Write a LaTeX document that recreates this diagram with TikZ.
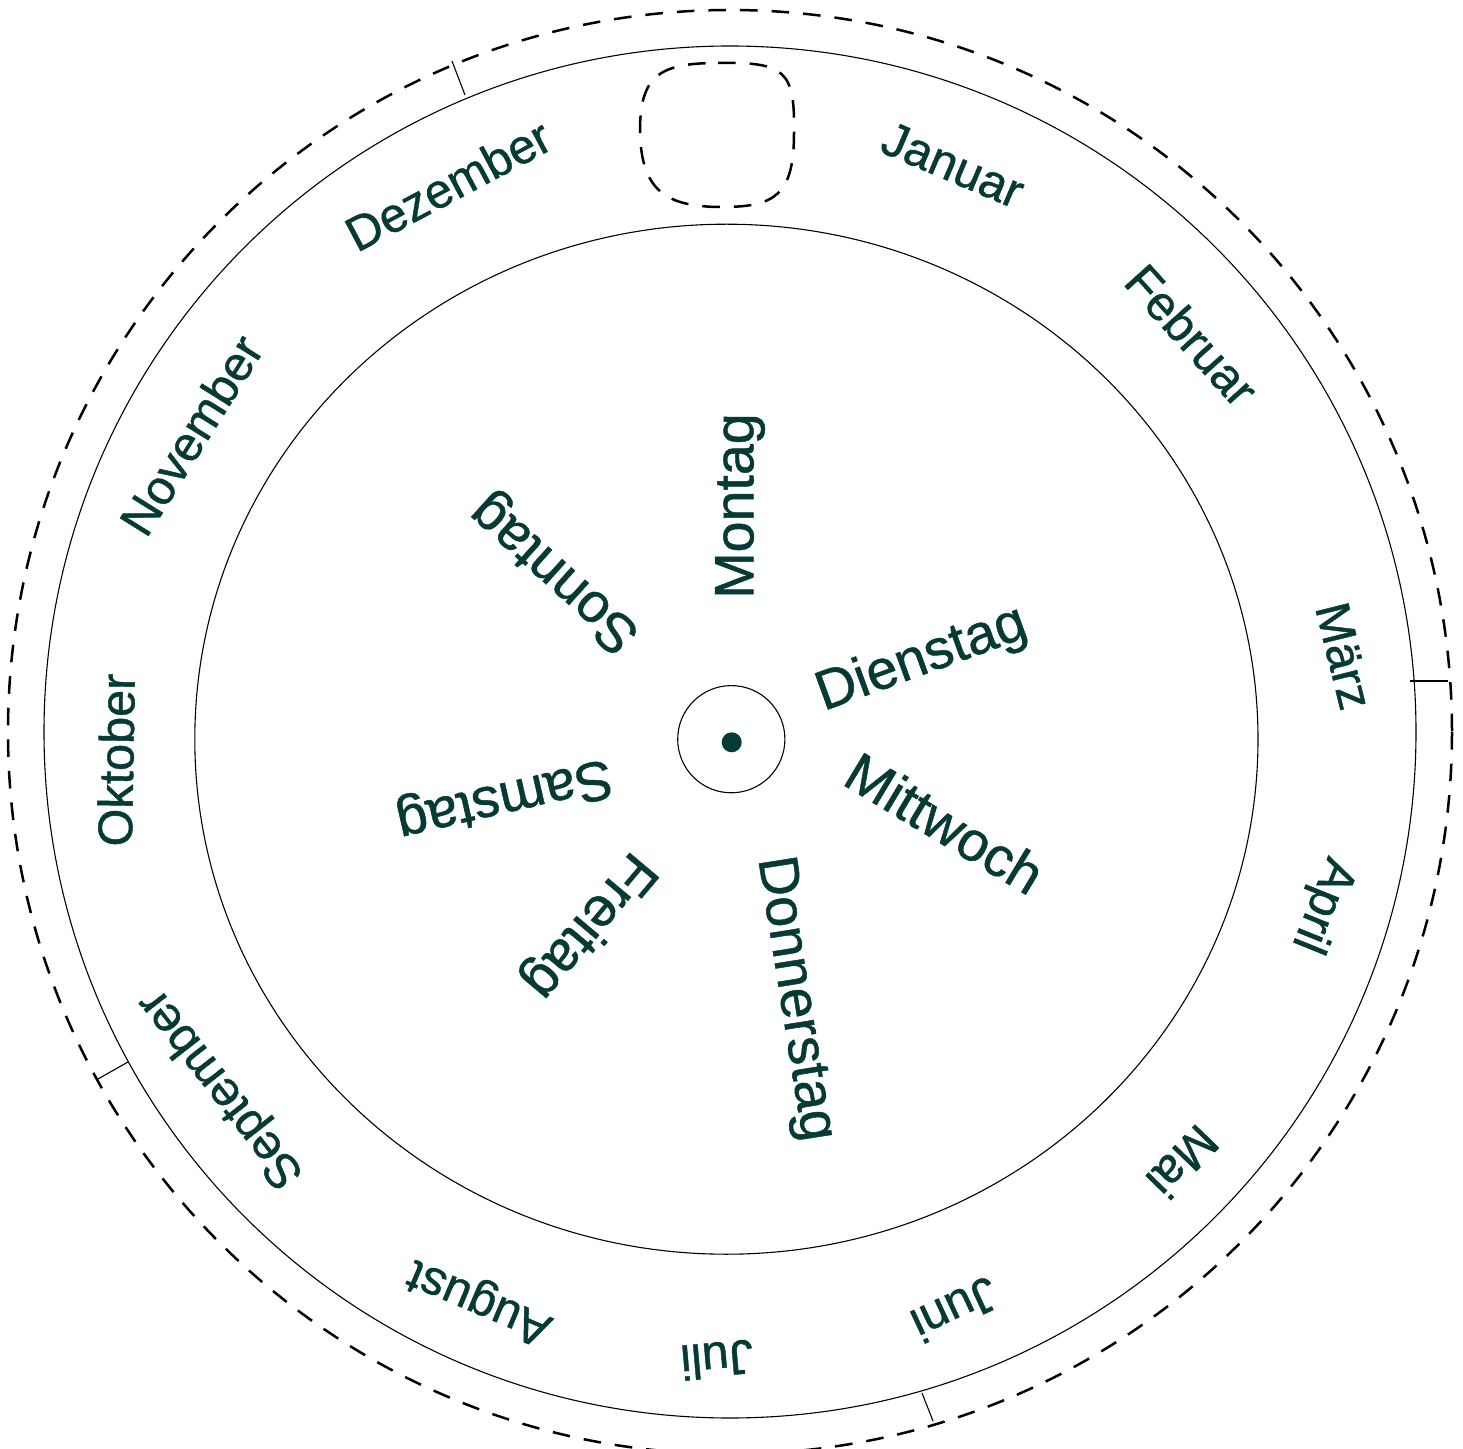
\documentclass[tikz,border=0pt]{standalone}
\usepackage{fontspec}
\setmainfont[FakeBold=0.9]{Liberation Sans}
\definecolor{ink}{HTML}{063A35}
\begin{document}
\begin{tikzpicture}[x=0.5pt,y=-0.5pt,
  month/.style={text=ink, font=\fontsize{24.3}{28}\selectfont, inner sep=0pt},
  day/.style={text=ink, font=\fontsize{27.8}{32}\selectfont, inner sep=0pt},
  ring/.style={draw=black, line width=0.55pt},
  cut/.style={draw=black, line width=1.25pt, dash pattern=on 8.8pt off 7pt},
  tick/.style={draw=black, line width=0.55pt}]
\useasboundingbox (0,0) rectangle (1463,1449);
\coordinate (c) at (730,732);
\draw[cut] (c) circle[radius=722];
\draw[ring] (c) circle[radius=686];
\draw[ring] (726.4,739.2) ellipse[x radius=531.6, y radius=515];
\draw[ring] (731.3,739.2) circle[radius=53.6];
\fill[ink] (731.7,742.3) circle[radius=10];
% cut-out window
\draw[cut] (718,63) .. controls (785,62) and (795,70) .. (794,133)
  .. controls (794,195) and (775,207) .. (722,207)
  .. controls (665,207) and (641,190) .. (640,131)
  .. controls (640,75) and (660,63) .. (718,63) -- cycle;
% ticks
\coordinate (t1a) at (465,95);   \coordinate (t1b) at (452,61);
\coordinate (t2a) at (1410,681); \coordinate (t2b) at (1448,681);
\coordinate (t3a) at (128,1062); \coordinate (t3b) at (98,1079);
\coordinate (t4a) at (922,1393); \coordinate (t4b) at (933,1421);
\draw[tick] (t1a) -- (t1b);
\draw[tick] (t2a) -- (t2b);
\draw[tick] (t3a) -- (t3b);
\draw[tick] (t4a) -- (t4b);
% months
\node[month, rotate=-23] (jan) at (953,165) {Januar};
\node[month, rotate=-48] (feb) at (1192,335) {Februar};
\node[month, rotate=-76] (mar) at (1344,656) {März};
\node[month, rotate=-112] (apr) at (1322,905) {April};
\node[month, rotate=-134] (mai) at (1183,1162) {Mai};
\node[month, rotate=-155] (jun) at (955,1310) {Juni};
\node[month, rotate=185] (jul) at (717,1360) {Juli};
\node[month, rotate=157] (aug) at (480,1300) {August};
\node[month, rotate=128] (sep) at (222,1088) {September};
\node[month, rotate=89] (okt) at (116,760) {Oktober};
\node[month, rotate=58] (nov) at (191,435) {November};
\node[month, rotate=28] (dez) at (448,185) {Dezember};
% days
\node[day, rotate=90] (mo) at (740,506) {Montag};
\node[day, rotate=20] (di) at (922,660) {Dienstag};
\node[day, rotate=-31] (mi) at (945,823) {Mittwoch};
\node[day, rotate=-81] (do) at (794,999) {Donnerstag};
\node[day, rotate=230] (fr) at (588,925) {Freitag};
\node[day, rotate=193] (sa) at (504,797) {Samstag};
\node[day, rotate=138] (so) at (556,572) {Sonntag};
\end{tikzpicture}
\end{document}
